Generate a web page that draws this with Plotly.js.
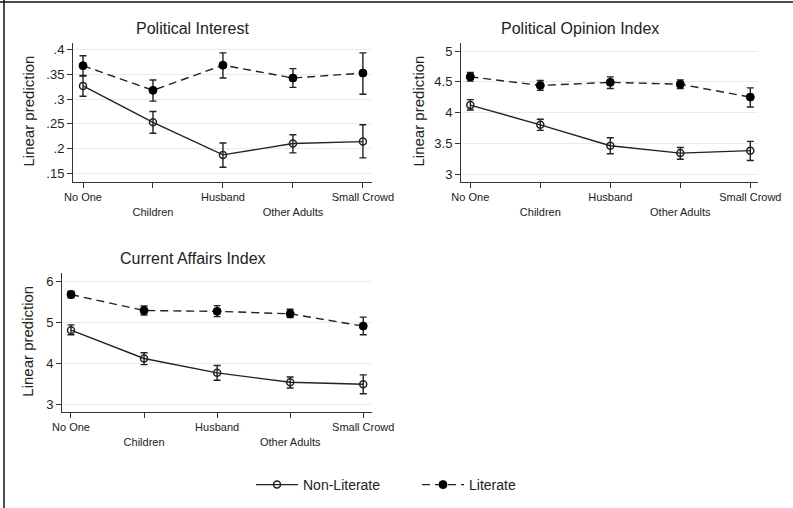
<!DOCTYPE html>
<html>
<head>
<meta charset="utf-8">
<script src="https://cdn.plot.ly/plotly-3.0.1.min.js"></script>
<style>html,body{margin:0;padding:0;background:#fff;}#chart{width:793px;height:508px;}</style>
</head>
<body>
<div id="chart"></div>
<script>
// Categories and tick labels
const categories = ['No One', 'Children', 'Husband', 'Other Adults', 'Small Crowd'];
const xTickText = ['No One', '<br>Children', 'Husband', '<br>Other Adults', 'Small Crowd'];
const panelTitles = ['Political Interest', 'Political Opinion Index', 'Current Affairs Index'];
const yAxisLabel = 'Linear prediction';
const seriesNames = ['Non-Literate', 'Literate'];

// Panel 1: Political Interest
const piTickVals = [0.15, 0.2, 0.25, 0.3, 0.35, 0.4];
const piTickText = ['.15', '.2', '.25', '.3', '.35', '.4'];
const piNonLit = [0.327, 0.253, 0.187, 0.210, 0.214];
const piNonLitHi = [0.348, 0.275, 0.211, 0.228, 0.248];
const piNonLitLo = [0.306, 0.231, 0.162, 0.191, 0.181];
const piLit = [0.368, 0.318, 0.369, 0.343, 0.353];
const piLitHi = [0.388, 0.339, 0.394, 0.362, 0.394];
const piLitLo = [0.347, 0.296, 0.343, 0.324, 0.310];

// Panel 2: Political Opinion Index
const poTickVals = [3, 3.5, 4, 4.5, 5];
const poTickText = ['3', '3.5', '4', '4.5', '5'];
const poNonLit = [4.12, 3.80, 3.46, 3.34, 3.38];
const poNonLitHi = [4.21, 3.89, 3.59, 3.43, 3.53];
const poNonLitLo = [4.04, 3.71, 3.33, 3.24, 3.22];
const poLit = [4.58, 4.44, 4.49, 4.46, 4.25];
const poLitHi = [4.65, 4.52, 4.58, 4.53, 4.40];
const poLitLo = [4.51, 4.36, 4.39, 4.39, 4.09];

// Panel 3: Current Affairs Index
const caTickVals = [3, 4, 5, 6];
const caTickText = ['3', '4', '5', '6'];
const caNonLit = [4.80, 4.11, 3.76, 3.53, 3.48];
const caNonLitHi = [4.93, 4.25, 3.94, 3.66, 3.71];
const caNonLitLo = [4.69, 3.96, 3.58, 3.39, 3.25];
const caLit = [5.67, 5.28, 5.26, 5.20, 4.90];
const caLitHi = [5.75, 5.39, 5.40, 5.31, 5.12];
const caLitLo = [5.59, 5.17, 5.13, 5.11, 4.69];

const xIdx = categories.map((c, i) => i);
const FONT = 'Liberation Sans, Arial, Helvetica, sans-serif';

function series(vals, hi, lo, name, literate, ax, showLegend) {
  return {
    type: 'scatter', mode: 'lines+markers',
    x: xIdx, y: vals, name: name,
    xaxis: 'x' + ax, yaxis: 'y' + ax,
    showlegend: showLegend, legendgroup: name,
    line: {color: '#222', width: 1.4, dash: literate ? '8px,5px' : 'solid'},
    marker: literate
      ? {symbol: 'circle', size: 8, color: '#000', line: {color: '#000', width: 1}}
      : {symbol: 'circle-open', size: 7, color: '#222', line: {color: '#222', width: 1.5}},
    error_y: {
      type: 'data', symmetric: false,
      array: hi.map((h, i) => h - vals[i]),
      arrayminus: lo.map((l, i) => vals[i] - l),
      color: '#222', thickness: 1.4, width: 3.5
    },
    hoverinfo: 'skip'
  };
}

const data = [
  series(piNonLit, piNonLitHi, piNonLitLo, seriesNames[0], false, '', true),
  series(piLit, piLitHi, piLitLo, seriesNames[1], true, '', true),
  series(poNonLit, poNonLitHi, poNonLitLo, seriesNames[0], false, '2', false),
  series(poLit, poLitHi, poLitLo, seriesNames[1], true, '2', false),
  series(caNonLit, caNonLitHi, caNonLitLo, seriesNames[0], false, '3', false),
  series(caLit, caLitHi, caLitLo, seriesNames[1], true, '3', false)
];

function xax(domain, range, anchor) {
  return {
    domain: domain, range: range, anchor: anchor,
    tickmode: 'array', tickvals: xIdx, ticktext: xTickText,
    ticks: 'outside', ticklen: 5, tickwidth: 1, tickcolor: '#333',
    showline: true, linecolor: '#333', linewidth: 1,
    showgrid: false, zeroline: false,
    tickfont: {size: 11, color: '#222', family: FONT}
  };
}
function yax(domain, range, anchor, tv, tt) {
  return {
    domain: domain, range: range, anchor: anchor,
    tickmode: 'array', tickvals: tv, ticktext: tt,
    ticks: 'outside', ticklen: 5, tickwidth: 1, tickcolor: '#333',
    showline: true, linecolor: '#333', linewidth: 1,
    showgrid: true, gridcolor: '#ebebeb', gridwidth: 1, zeroline: false,
    tickfont: {size: 13, color: '#222', family: FONT}
  };
}

const W = 793, H = 508;
const layout = {
  width: W, height: H,
  margin: {l: 0, r: 0, t: 0, b: 0},
  paper_bgcolor: '#fff', plot_bgcolor: '#fff',
  font: {family: FONT, color: '#222'},
  xaxis: xax([73 / W, 372 / W], [-0.143, 4.13], 'y'),
  yaxis: yax([1 - 182 / H, 1 - 43 / H], [0.132, 0.414], 'x', piTickVals, piTickText),
  xaxis2: xax([461 / W, 758 / W], [-0.133, 4.11], 'y2'),
  yaxis2: yax([1 - 182 / H, 1 - 43 / H], [2.87, 5.13], 'x2', poTickVals, poTickText),
  xaxis3: xax([62 / W, 372 / W], [-0.123, 4.12], 'y3'),
  yaxis3: yax([1 - 412 / H, 1 - 273 / H], [2.805, 6.195], 'x3', caTickVals, caTickText),
  showlegend: true,
  legend: {
    orientation: 'h', x: 251 / W, xanchor: 'left', y: 1 - 485 / H, yanchor: 'middle',
    font: {size: 14, color: '#222', family: FONT},
    bgcolor: 'rgba(0,0,0,0)', itemwidth: 42, entrywidth: 109, entrywidthmode: 'pixels', tracegroupgap: 0
  },
  annotations: [
    {text: panelTitles[0], x: 192 / W, y: 1 - 28 / H, xref: 'paper', yref: 'paper', showarrow: false, xanchor: 'center', yanchor: 'middle', font: {size: 16, color: '#222'}},
    {text: panelTitles[1], x: 580 / W, y: 1 - 28 / H, xref: 'paper', yref: 'paper', showarrow: false, xanchor: 'center', yanchor: 'middle', font: {size: 16, color: '#222'}},
    {text: panelTitles[2], x: 193 / W, y: 1 - 258 / H, xref: 'paper', yref: 'paper', showarrow: false, xanchor: 'center', yanchor: 'middle', font: {size: 16, color: '#222'}},
    {text: yAxisLabel, textangle: -90, x: 28 / W, y: 1 - 111.5 / H, xref: 'paper', yref: 'paper', showarrow: false, xanchor: 'center', yanchor: 'middle', font: {size: 15, color: '#222'}},
    {text: yAxisLabel, textangle: -90, x: 418 / W, y: 1 - 111.5 / H, xref: 'paper', yref: 'paper', showarrow: false, xanchor: 'center', yanchor: 'middle', font: {size: 15, color: '#222'}},
    {text: yAxisLabel, textangle: -90, x: 28 / W, y: 1 - 341.7 / H, xref: 'paper', yref: 'paper', showarrow: false, xanchor: 'center', yanchor: 'middle', font: {size: 15, color: '#222'}}
  ],
  shapes: [
    {type: 'line', xref: 'paper', yref: 'paper', x0: 4 / W, x1: 4 / W, y0: 0, y1: 1, line: {color: '#111', width: 1.5}},
    {type: 'line', xref: 'paper', yref: 'paper', x0: 0, x1: 1, y0: 1 - 2 / H, y1: 1 - 2 / H, line: {color: '#111', width: 1.5}}
  ]
};

Plotly.newPlot('chart', data, layout, {staticPlot: true, displayModeBar: false});
</script>
</body>
</html>
